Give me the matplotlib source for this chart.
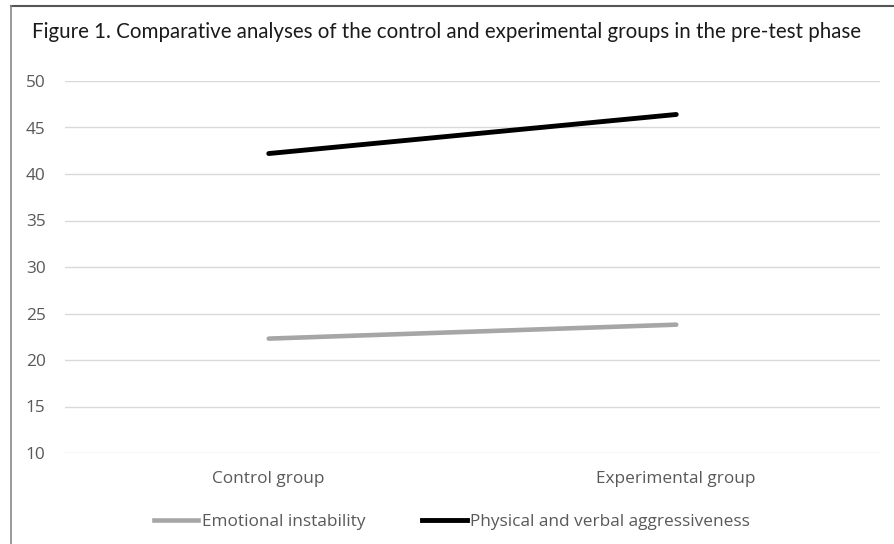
import matplotlib.pyplot as plt
from matplotlib.lines import Line2D

categories = ["Control group", "Experimental group"]
emotional_instability = [22.3, 23.8]
physical_verbal_aggr = [42.2, 46.4]
series_names = ["Emotional instability", "Physical and verbal aggressiveness"]
yticks = [10, 15, 20, 25, 30, 35, 40, 45, 50]

W, H = 894, 544
fig = plt.figure(figsize=(W / 100, H / 100), dpi=100)
ax = fig.add_axes([65 / W, 1 - 453 / H, (880 - 65) / W, (453 - 81) / H])

x = list(range(len(categories)))
ax.plot(x, emotional_instability, color="#a6a6a6", lw=3.3, solid_capstyle="round",
        label=series_names[0], zorder=3)
ax.plot(x, physical_verbal_aggr, color="#000000", lw=3.5, solid_capstyle="round",
        label=series_names[1], zorder=3)

ax.set_xlim(-0.5, 1.5)
ax.set_ylim(10, 50)
ax.set_yticks(yticks)
ax.set_xticks(x)
ax.set_xticklabels(categories)
ax.grid(axis="y", color="#d9d9d9", lw=1)
ax.set_axisbelow(True)
for s in ax.spines.values():
    s.set_visible(False)
ax.tick_params(axis="both", length=0, labelsize=12.4, labelcolor="#595959")
ax.tick_params(axis="y", pad=14)
ax.tick_params(axis="x", pad=13)
for lab in ax.get_xticklabels() + ax.get_yticklabels():
    lab.set_family("Open Sans")

fig.text(0.5, 1 - 32 / H, "Figure 1. Comparative analyses of the control and experimental groups in the pre-test phase",
         ha="center", va="center", fontsize=14.8, family="Lato", color="#1a1a1a")

handles = [Line2D([], [], color="#a6a6a6", lw=3.3), Line2D([], [], color="#000000", lw=3.5)]
leg = fig.legend(handles, series_names, loc="center", bbox_to_anchor=(452 / W, 1 - 522 / H),
                 ncol=2, frameon=False, handlelength=2.6, handletextpad=0.2, columnspacing=3.3,
                 borderpad=0, prop={"family": "Open Sans", "size": 12.4})
for t in leg.get_texts():
    t.set_color("#595959")

# figure border lines
fig.add_artist(Line2D([11 / W, 1], [1 - 6 / H, 1 - 6 / H], color="#555555", lw=1.5, transform=fig.transFigure))
fig.add_artist(Line2D([11 / W, 11 / W], [0, 1 - 6 / H], color="#888888", lw=1.2, transform=fig.transFigure))

fig.savefig("out.png", dpi=100)
